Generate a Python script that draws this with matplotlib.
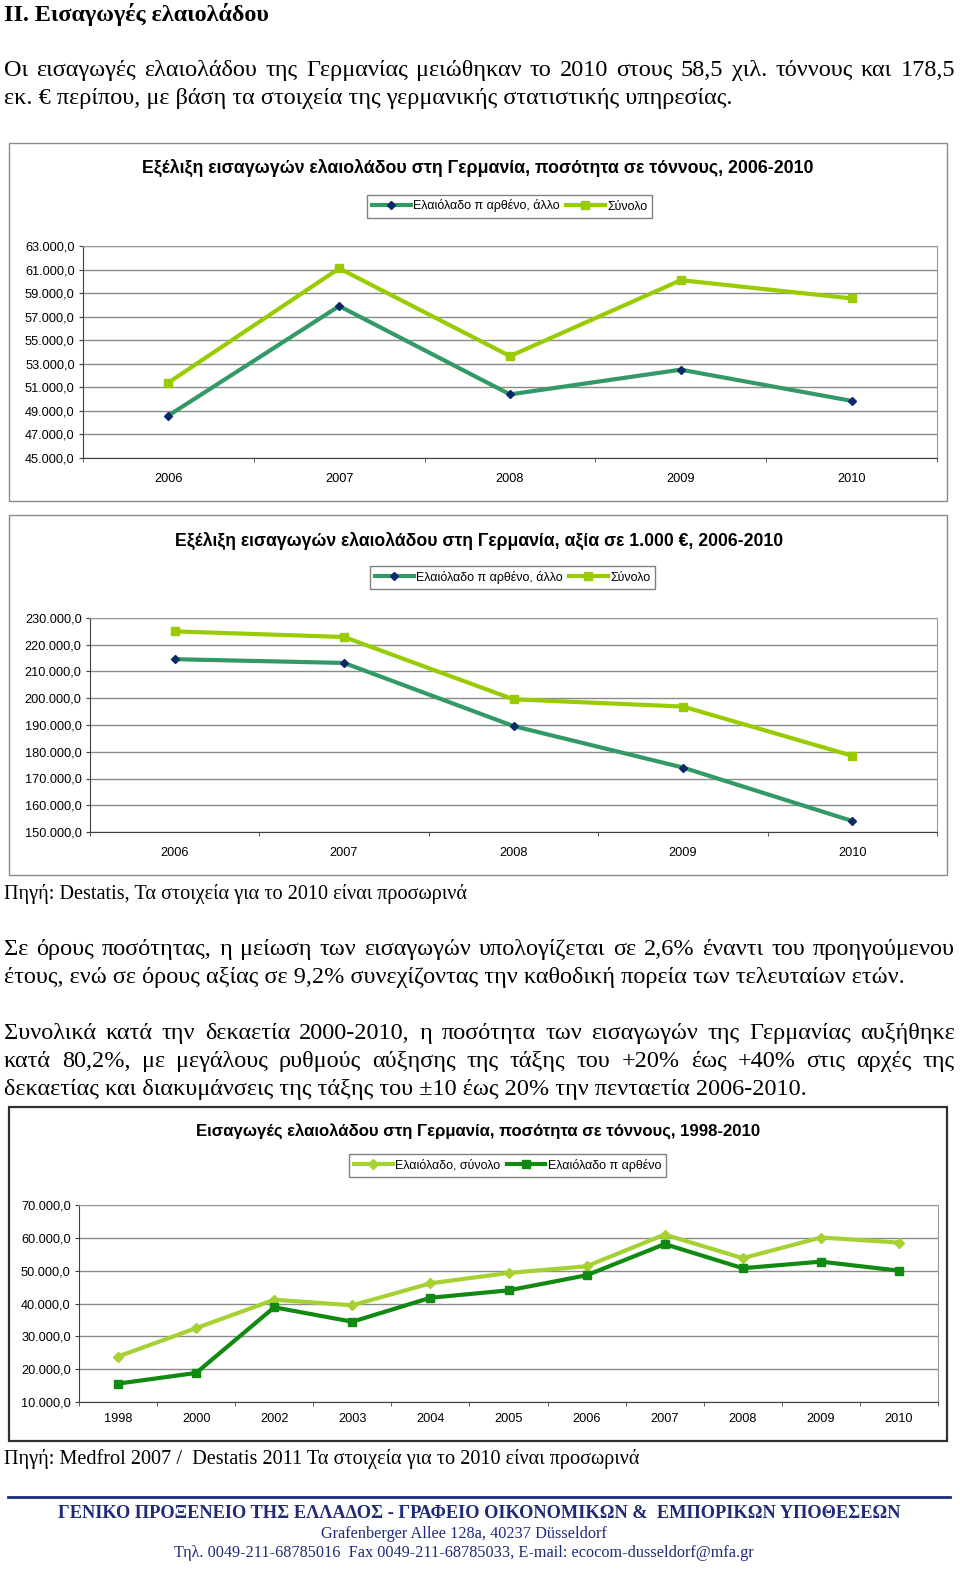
import matplotlib
matplotlib.use("Agg")
import matplotlib.pyplot as plt
from matplotlib.patches import Rectangle
from matplotlib.lines import Line2D
from matplotlib.ticker import FuncFormatter

W, H = 960, 1572
SERIF = "Liberation Serif"
SANS = "Liberation Sans"

# chart data
years_5 = ["2006", "2007", "2008", "2009", "2010"]
qty_virgin_other = [48600, 57900, 50400, 52500, 49850]
qty_total = [51400, 61100, 53650, 60100, 58550]
val_virgin_other = [214600, 213200, 189600, 174100, 154100]
val_total = [225000, 222900, 199600, 196900, 178500]

years_long = ["1998", "2000", "2002", "2003", "2004", "2005",
              "2006", "2007", "2008", "2009", "2010"]
long_total = [23850, 32500, 41150, 39450, 46150, 49300,
              51350, 61000, 53800, 60100, 58550]
long_virgin = [15600, 18850, 38850, 34450, 41750, 44000,
               48600, 58100, 50750, 52750, 50000]

TEAL = "#339966"
LIME = "#99CC00"
LIME2 = "#A6D133"
DGREEN = "#118A11"
NAVY = "#1F2A78"

fig = plt.figure(figsize=(9.6, 15.72), dpi=100)
renderer = fig.canvas.get_renderer()


def fx(x):
    return x / W


def fy(y):
    return 1 - y / H


def width_of(t):
    return t.get_window_extent(renderer).width


def put(text, x, y, size, ha="left", family=SERIF, **kw):
    return fig.text(fx(x), fy(y), text, fontsize=size, ha=ha, va="baseline",
                    family=family, **kw)


def fit(text, x, y, target, ha="center", **kw):
    t = put(text, x, y, 10, ha=ha, **kw)
    t.set_fontsize(10 * target / width_of(t))
    return t


def justify(text, x0, x1, y, size, **kw):
    words = text.split()
    items = [put(w, 0, y, size, **kw) for w in words]
    widths = [width_of(t) for t in items]
    gap = (x1 - x0 - sum(widths)) / (len(words) - 1)
    x = x0
    for t, w in zip(items, widths):
        t.set_x(fx(x))
        x += w + gap


def eu(v, pos=None):
    s = f"{v:,.1f}"
    return s.replace(",", "#").replace(".", ",").replace("#", ".")


def box(x0, y0, x1, y1, color, lw):
    fig.patches.append(Rectangle((fx(x0), fy(y1)), (x1 - x0) / W, (y1 - y0) / H,
                                 transform=fig.transFigure, fill=False,
                                 ec=color, lw=lw))


def chart(plot, cats, series, ylim, ystep, legend_xy, xpad):
    x0, y0, x1, y1 = plot
    ax = fig.add_axes([fx(x0), fy(y1), (x1 - x0) / W, (y1 - y0) / H])
    n = len(cats)
    for vals, label, color, marker, mcolor, ms in series:
        ax.plot(range(n), vals, color=color, lw=3, marker=marker, ms=ms,
                mfc=mcolor, mec=mcolor, label=label, solid_joinstyle="miter")
    ax.set_xlim(-0.5, n - 0.5)
    ax.set_ylim(*ylim)
    ax.set_yticks(range(ylim[0], ylim[1] + 1, ystep))
    ax.yaxis.set_major_formatter(FuncFormatter(eu))
    ax.set_xticks(range(n), cats)
    ax.set_xticks([i - 0.5 for i in range(n + 1)], minor=True)
    ax.grid(axis="y", color="#8a8a8a", lw=1)
    ax.set_axisbelow(True)
    for side in ("left", "bottom"):
        ax.spines[side].set_color("#404040")
    for side in ("top", "right"):
        ax.spines[side].set_color("#9a9a9a")
    ax.tick_params(axis="y", length=3, pad=3, labelsize=9.2, colors="#404040",
                   labelcolor="black")
    ax.tick_params(axis="x", which="major", length=0, pad=xpad, labelsize=9.2)
    ax.tick_params(axis="x", which="minor", length=3, color="#404040")
    for lab in ax.get_xticklabels() + ax.get_yticklabels():
        lab.set_family(SANS)
    ax.legend(loc="center", bbox_to_anchor=(fx(legend_xy[0]), fy(legend_xy[1])),
              bbox_transform=fig.transFigure, ncol=2,
              prop={"family": SANS, "size": 9}, frameon=True, fancybox=False,
              edgecolor="#808080", framealpha=1, handlelength=3.1,
              handletextpad=0.2, columnspacing=0.5, borderpad=0.4,
              borderaxespad=0)
    return ax


# page text
fit("II. Εισαγωγές ελαιολάδου", 4, 21, 266, ha="left", weight="bold")

t = put("εκ. € περίπου, με βάση τα στοιχεία της γερμανικής στατιστικής υπηρεσίας.",
        4, 104, 16)
body = 16 * 729 / width_of(t)
t.set_fontsize(body)
small = body * 10 / 12
justify("Οι εισαγωγές ελαιολάδου της Γερμανίας μειώθηκαν το 2010 στους 58,5 "
        "χιλ. τόννους και 178,5", 4, 955, 76, body)

put("Πηγή: Destatis, Τα στοιχεία για το 2010 είναι προσωρινά", 4, 899, small)

justify("Σε όρους ποσότητας, η μείωση των εισαγωγών υπολογίζεται σε 2,6% "
        "έναντι του προηγούμενου", 4, 955, 955, body)
put("έτους, ενώ σε όρους αξίας σε 9,2% συνεχίζοντας την καθοδική πορεία "
    "των τελευταίων ετών.", 4, 983, body)

justify("Συνολικά κατά την δεκαετία 2000-2010, η ποσότητα των εισαγωγών "
        "της Γερμανίας αυξήθηκε", 4, 955, 1039, body)
justify("κατά 80,2%, με μεγάλους ρυθμούς αύξησης της τάξης του +20% έως "
        "+40% στις αρχές της", 4, 955, 1067, body)
put("δεκαετίας και διακυμάνσεις της τάξης του ±10 έως 20% την πενταετία "
    "2006-2010.", 4, 1095, body)

put("Πηγή: Medfrol 2007 /  Destatis 2011 Τα στοιχεία για το 2010 είναι "
    "προσωρινά", 4, 1464, small)

# chart 1: quantity 2006-2010
box(9, 143, 947, 501, "#8a8a8a", 1)
fit("Εξέλιξη εισαγωγών ελαιολάδου στη Γερμανία, ποσότητα σε τόννους, 2006-2010",
    478, 173, 670, family=SANS, weight="bold")
chart((83, 246, 937, 458), years_5,
      [(qty_virgin_other, "Ελαιόλαδο π αρθένο, άλλο", TEAL, "D", "#0A2A6A", 4),
       (qty_total, "Σύνολο", LIME, "s", LIME, 6)],
      (45000, 63000), 2000, (509.5, 206), 11)

# chart 2: value 2006-2010
box(9, 515, 947, 875, "#8a8a8a", 1)
fit("Εξέλιξη εισαγωγών ελαιολάδου στη Γερμανία, αξία σε 1.000 €, 2006-2010",
    479.5, 546, 609, family=SANS, weight="bold")
chart((90, 618, 937, 832), years_5,
      [(val_virgin_other, "Ελαιόλαδο π αρθένο, άλλο", TEAL, "D", "#0A2A6A", 4),
       (val_total, "Σύνολο", LIME, "s", LIME, 6)],
      (150000, 230000), 10000, (512.5, 577), 11)

# chart 3: quantity 1998-2010
box(9, 1107, 947, 1441, "#303030", 1.6)
fit("Εισαγωγές ελαιολάδου στη Γερμανία, ποσότητα σε τόννους, 1998-2010",
    478, 1136, 566, family=SANS, weight="bold")
chart((79, 1205, 938, 1402), years_long,
      [(long_total, "Ελαιόλαδο, σύνολο", LIME2, "D", LIME2, 5),
       (long_virgin, "Ελαιόλαδο π αρθένο", DGREEN, "s", DGREEN, 6)],
      (10000, 70000), 10000, (507.5, 1165), 8)

# footer
fig.lines.append(Line2D([fx(8), fx(950)], [fy(1497), fy(1497)],
                        transform=fig.transFigure, color=NAVY, lw=2))
fit("ΓΕΝΙΚΟ ΠΡΟΞΕΝΕΙΟ ΤΗΣ ΕΛΛΑΔΟΣ - ΓΡΑΦΕΙΟ ΟΙΚΟΝΟΜΙΚΩΝ &  ΕΜΠΟΡΙΚΩΝ ΥΠΟΘΕΣΕΩΝ",
    479, 1518, 838, weight="bold", color=NAVY)
fit("Grafenberger Allee 128a, 40237 Düsseldorf", 463.5, 1538, 285, color=NAVY)
fit("Τηλ. 0049-211-68785016  Fax 0049-211-68785033, E-mail: "
    "ecocom-dusseldorf@mfa.gr", 463.5, 1557, 577, color=NAVY)

fig.savefig("out.png", dpi=100)
